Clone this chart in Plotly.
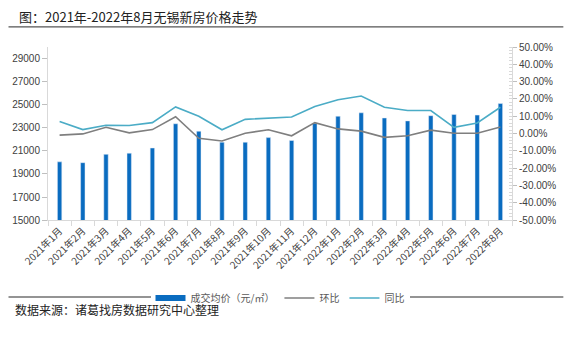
import plotly.graph_objects as go

months = ["2021年1月", "2021年2月", "2021年3月", "2021年4月", "2021年5月", "2021年6月",
          "2021年7月", "2021年8月", "2021年9月", "2021年10月", "2021年11月", "2021年12月",
          "2022年1月", "2022年2月", "2022年3月", "2022年4月", "2022年5月", "2022年6月",
          "2022年7月", "2022年8月"]
price = [20050, 19980, 20700, 20800, 21250, 23350, 22700, 21750, 21750, 22150, 21900,
         23400, 24000, 24300, 23850, 23600, 24050, 24150, 24100, 25100]
mom = [-0.009, -0.002, 0.036, 0.004, 0.023, 0.097, -0.027, -0.043, 0.002, 0.022, -0.013,
       0.063, 0.027, 0.014, -0.022, -0.013, 0.020, 0.002, 0.002, 0.038]
yoy = [0.070, 0.023, 0.048, 0.047, 0.063, 0.154, 0.100, 0.022, 0.082, 0.088, 0.096,
       0.156, 0.195, 0.217, 0.152, 0.133, 0.133, 0.036, 0.061, 0.152]
left_ticks = [15000, 17000, 19000, 21000, 23000, 25000, 27000, 29000]
left_labels = ["15000", "17000", "19000", "21000", "23000", "25000", "27000", "29000"]
right_ticks = [-0.5, -0.4, -0.3, -0.2, -0.1, 0, 0.1, 0.2, 0.3, 0.4, 0.5]
right_labels = ["-50.00%", "-40.00%", "-30.00%", "-20.00%", "-10.00%", "0.00%",
                "10.00%", "20.00%", "30.00%", "40.00%", "50.00%"]

FONT = "Liberation Sans, Arial, Noto Sans CJK SC, sans-serif"
CJK = "Microsoft YaHei, Noto Sans CJK SC, sans-serif"
TXT = "#404040"
BLUE = "#0A6CC0"

fig = go.Figure()
fig.add_trace(go.Bar(x=months, y=price, name="成交均价（元/㎡）", marker_color=BLUE,
                     width=0.19, yaxis="y", showlegend=False))
# legend entry for the bars drawn as a wide swatch
fig.add_trace(go.Scatter(x=[None], y=[None], name="成交均价（元/㎡）", mode="lines",
                         line=dict(color=BLUE, width=6), yaxis="y"))
fig.add_trace(go.Scatter(x=months, y=mom, name="环比", mode="lines",
                         line=dict(color="#7F7F7F", width=1.6), yaxis="y2"))
fig.add_trace(go.Scatter(x=months, y=yoy, name="同比", mode="lines",
                         line=dict(color="#4BACC6", width=1.6), yaxis="y2"))

W, H = 568, 344
L, R, T, B = 43, 55, 47, 112
pw, ph = W - L - R, H - T - B

def px(x):
    return (x - L) / pw

def py(y):
    return (H - B - y) / ph

fig.update_layout(
    width=W, height=H,
    margin=dict(l=L, r=R, t=T, b=B),
    paper_bgcolor="white", plot_bgcolor="white",
    font=dict(family=FONT, size=10, color=TXT),
    showlegend=True,
    legend=dict(orientation="h", x=0.5, xanchor="center", yref="container",
                y=1 - 298 / H, yanchor="middle", font=dict(family=CJK, size=10, color="#595959"),
                itemwidth=30, tracegroupgap=0),
    xaxis=dict(type="category", tickangle=-45, showgrid=False, showline=True,
               linecolor="#D9D9D9", ticks="outside", tickson="boundaries", ticklen=5,
               tickcolor="#D9D9D9", tickfont=dict(family=CJK, size=10, color=TXT),
               range=[-0.5, 19.5]),
    yaxis=dict(range=[15000, 30000], tickvals=left_ticks, ticktext=left_labels,
               showgrid=False, showline=True,
               linecolor="#D9D9D9", ticks="outside", ticklen=5, tickcolor="#BFBFBF",
               zeroline=False, tickfont=dict(size=10, color=TXT)),
    yaxis2=dict(range=[-0.5, 0.5], overlaying="y", side="right", tickvals=right_ticks,
                ticktext=right_labels, showgrid=False, showline=True, linecolor="#D9D9D9",
                ticks="outside", ticklen=4, tickcolor="#BFBFBF", zeroline=False,
                tickfont=dict(size=10, color=TXT),
                minor=dict(dtick=0.02, ticks="inside", ticklen=3, tickcolor="#D9D9D9")),
    bargap=0.8,
)

fig.add_shape(type="line", xref="paper", yref="paper", x0=px(3), x1=px(565),
              y0=py(25.5), y1=py(25.5), line=dict(color="#555555", width=1.2))
fig.add_shape(type="line", xref="paper", yref="paper", x0=px(3), x1=px(565),
              y0=py(314), y1=py(314), line=dict(color="#707070", width=1.5))
fig.add_annotation(text="图：2021年-2022年8月无锡新房价格走势", xref="paper", yref="paper",
                   x=px(12), y=py(14), xanchor="left", yanchor="middle", showarrow=False,
                   font=dict(family=CJK, size=13, color="#222222"))
fig.add_annotation(text="数据来源：诸葛找房数据研究中心整理", xref="paper", yref="paper",
                   x=px(8), y=py(327), xanchor="left", yanchor="middle", showarrow=False,
                   font=dict(family=CJK, size=12, color="#222222"))

fig.write_html("out.html")
